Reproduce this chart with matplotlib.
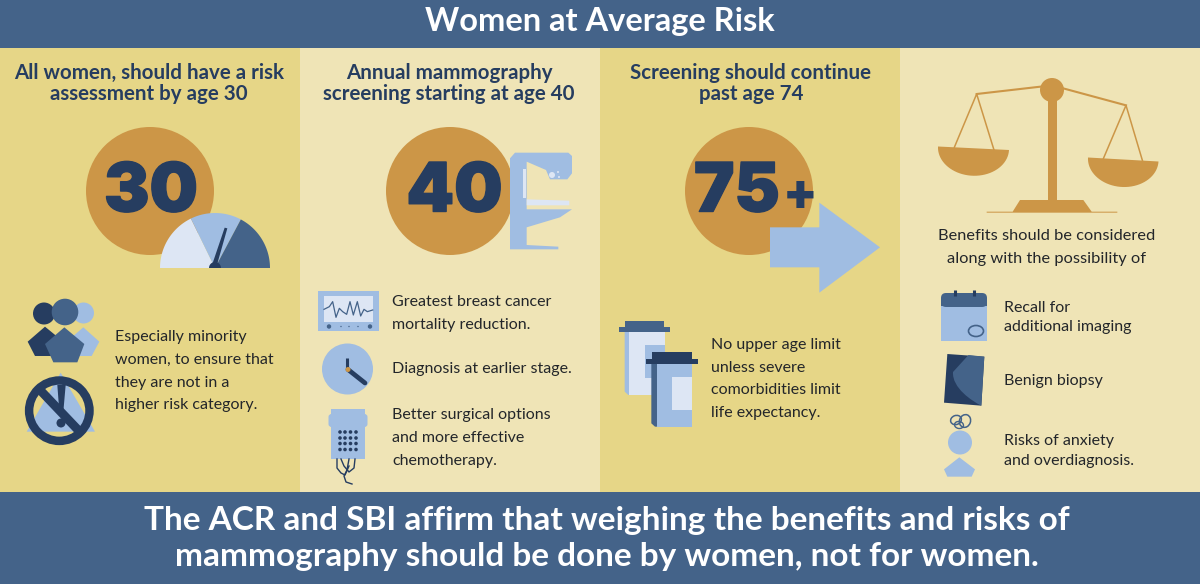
import numpy as np
import matplotlib
matplotlib.use("Agg")
import matplotlib.pyplot as plt
from matplotlib.patches import Circle, Polygon, Rectangle, FancyBboxPatch, Ellipse, PathPatch
from matplotlib.path import Path
import matplotlib.patheffects as pe

plt.rcParams['font.family'] = ['Lato', 'DejaVu Sans']

# text content
title = "Women at Average Risk"
footer = ["The ACR and SBI affirm that weighing the benefits and risks of",
          "mammography should be done by women, not for women."]
headers = [["All women, should have a risk", "assessment by age 30"],
           ["Annual mammography", "screening starting at age 40"],
           ["Screening should continue", "past age 74"]]
header_x = [149, 449, 751]
ages = ["30", "40", "75+"]
age_x = [150, 450, 749]
panel_x = [0, 300, 600, 900]

col1_text = ["Especially minority", "women, to ensure that", "they are not in a", "higher risk category."]
col2_text = [["Greatest breast cancer", "mortality reduction."],
             ["Diagnosis at earlier stage."],
             ["Better surgical options", "and more effective", "chemotherapy."]]
col3_text = ["No upper age limit", "unless severe", "comorbidities limit", "life expectancy."]
col4_intro = ["Benefits should be considered", "along with the possibility of"]
col4_text = [["Recall for", "additional imaging"], ["Benign biopsy"], ["Risks of anxiety", "and overdiagnosis."]]

# colours
GOLD = '#e6d687'
CREAM = '#efe4b6'
ORANGE = '#cc9647'
NAVY = '#263d60'
BLUE = '#446389'
LIGHT = '#a0bde2'
PALE = '#dde6f4'
INK = '#23262a'

fig = plt.figure(figsize=(12, 5.86), dpi=100)
ax = fig.add_axes([0, 0, 1, 1])
ax.set_xlim(0, 1200)
ax.set_ylim(586, 0)
ax.axis('off')


def poly(pts, color, z=2, ox=0, oy=0, s=1/3):
    # points come in zoomed crop coords (3x), ox/oy is crop origin
    p = [(ox + x * s, oy + y * s) for x, y in pts]
    ax.add_patch(Polygon(p, closed=True, fc=color, ec='none', zorder=z))


def circ(x, y, r, color, z=2):
    ax.add_patch(Circle((x, y), r, fc=color, ec='none', zorder=z))


def wedge(x, y, r, a0, a1, color, z=3):
    t = np.radians(np.linspace(a0, a1, 40))
    pts = [(x, y)] + list(zip(x + r * np.cos(t), y - r * np.sin(t)))
    ax.add_patch(Polygon(pts, closed=True, fc=color, ec='none', zorder=z))


def seg(x0, y0, x1, y1, color, lw, z=4, cap='butt'):
    ax.plot([x0, x1], [y0, y1], color=color, lw=lw, solid_capstyle=cap, zorder=z)


def body(x, lines, ys, size=11.5):
    for s, y in zip(lines, ys):
        ax.text(x, y + 1.5, s, fontsize=size, color=INK, va='center', ha='left', zorder=10)


# panels and banners
for i, x in enumerate(panel_x):
    ax.add_patch(Rectangle((x, 48), 300, 444, fc=GOLD if i % 2 == 0 else CREAM, ec='none', zorder=0))
ax.add_patch(Rectangle((0, 0), 1200, 48, fc=BLUE, ec='none', zorder=1))
ax.add_patch(Rectangle((0, 492), 1200, 92, fc=BLUE, ec='none', zorder=1))
ax.text(600, 21.5, title, color='white', fontsize=23.5, fontweight='bold', ha='center', va='center', zorder=5)
ax.text(607, 520.5, footer[0], color='white', fontsize=24, fontweight='bold', ha='center', va='center', zorder=5)
ax.text(607, 556.5, footer[1], color='white', fontsize=24, fontweight='bold', ha='center', va='center', zorder=5)

for hx, lines in zip(header_x, headers):
    ax.text(hx, 73, lines[0], color=NAVY, fontsize=14.8, fontweight='bold', ha='center', va='center', zorder=5)
    ax.text(hx, 94, lines[1], color=NAVY, fontsize=14.8, fontweight='bold', ha='center', va='center', zorder=5)

# big orange circles with the ages
for cx in age_x:
    circ(cx, 191, 64, ORANGE)
stroke = [pe.withStroke(linewidth=1, foreground=NAVY)]
big = dict(color=NAVY, fontsize=49, family=['Inter', 'Lato'], fontweight='black', va='center', zorder=6, path_effects=stroke)
ax.text(151, 193.5, ages[0], ha='center', **big)
ax.text(454.5, 193.5, ages[1], ha='center', **big)
ax.text(694, 193.5, ages[2][:2], ha='left', **big)
ax.text(800, 196, ages[2][2:], color=NAVY, fontsize=36, family=['Inter', 'Lato'], fontweight='black', ha='center', va='center', zorder=6)

# gauge
wedge(215, 268, 55, 116, 180, PALE)
wedge(215, 268, 55, 62, 116, LIGHT)
wedge(215, 268, 55, 0, 62, BLUE)
poly([(455, 408), (470, 408), (502, 295), (494, 293)], NAVY, 5, 60, 130)
wedge(215, 268, 6, 0, 180, NAVY, 5)

# people icon
O = (0, 270)
circ(83.5, 313, 10.5, LIGHT, 3)
poly([(250, 172), (298, 215), (275, 258), (220, 258), (200, 215)], LIGHT, 3, *O)
circ(44, 313.5, 11, NAVY, 4)
poly([(135, 170), (190, 215), (165, 258), (105, 258), (83, 215)], NAVY, 4, *O)
circ(65, 312, 13.3, BLUE, 5)
poly([(193, 172), (253, 222), (232, 277), (160, 277), (135, 222)], BLUE, 5, *O)

# no-symbol icon
poly([(182, 308), (285, 485), (80, 485)], LIGHT, 3, *O)
ax.add_patch(Circle((59.3, 410.7), 30.2, fc='none', ec=NAVY, lw=6.1, zorder=5))
seg(41, 391, 80, 432, NAVY, 6.4, 5)
poly([(172, 345), (197, 345), (190, 425), (178, 425)], NAVY, 5, *O)
circ(61, 423, 4.5, NAVY, 5)

# mammography machine
O = (300, 130)
poly([(630, 358), (630, 85), (645, 68), (805, 68), (816, 78), (816, 130), (802, 148), (750, 148),
      (738, 120), (680, 95), (680, 238), (816, 238), (780, 262), (680, 292), (680, 345), (775, 350), (775, 358)],
     LIGHT, 3, *O)
ax.add_patch(Rectangle((522.5, 169), 3.5, 29, fc=PALE, ec='none', zorder=4))
poly([(680, 208), (808, 212), (808, 226), (680, 226)], PALE, 4, *O)
circ(552, 175, 3, PALE, 4)
circ(558, 172, 1, PALE, 4)
circ(559, 177, 1, PALE, 4)

# monitor
ax.add_patch(Rectangle((318, 291), 61, 39.5, fc=LIGHT, ec='none', zorder=3))
ax.add_patch(Rectangle((324, 296), 49, 26, fc=PALE, ec='none', zorder=4))
ecg_x = [72, 88, 98, 108, 118, 128, 140, 150, 160, 172, 182, 192, 202, 218]
ecg_y = [538, 530, 515, 562, 535, 545, 553, 515, 555, 515, 558, 538, 545, 540]
ax.plot([300 + x / 3 for x in ecg_x], [130 + y / 3 for y in ecg_y], color=BLUE, lw=0.9, zorder=5)
for dx, r in [(329, 2.2), (341, 0.7), (349, 0.7), (358, 0.7), (370, 2.2)]:
    circ(dx, 326.5, r, BLUE, 5)

# clock
circ(347.5, 369, 25.5, LIGHT, 3)
seg(347.3, 358, 347.3, 369.5, NAVY, 2.2, 4)
seg(348, 369.5, 365, 383, NAVY, 3.4, 4, 'round')
circ(348, 369.5, 2.5, ORANGE, 5)

# paddle
ax.add_patch(Rectangle((331, 409), 34, 8, fc=LIGHT, ec='none', zorder=3))
ax.add_patch(FancyBboxPatch((328.5, 414), 39, 13, boxstyle='round,pad=0,rounding_size=3', fc=LIGHT, ec='none', zorder=3))
ax.add_patch(Rectangle((331, 425), 34, 34, fc=LIGHT, ec='none', zorder=3))
for gy in [432, 438, 443.5, 449.5]:
    for gx in [340, 345, 350.5, 356]:
        circ(gx, gy, 1.8, NAVY, 4)
ax.plot([337, 337, 341, 345, 349], [459, 468, 473, 475, 466], color=NAVY, lw=1, zorder=4)
ax.plot([341, 344, 349, 354, 355], [459, 466, 472, 468, 459], color=NAVY, lw=1, zorder=4)
ax.plot([349, 347, 344, 346, 352], [459, 470, 476, 482, 484], color=NAVY, lw=1, zorder=4)

# arrow
poly([(510, 292), (658, 292), (658, 218), (840, 352), (658, 488), (658, 412), (510, 412)], LIGHT, 5, 600, 130)

# pill bottles
O = (600, 130)
poly([(74, 572), (193, 572), (193, 592), (210, 592), (210, 606), (57, 606), (57, 592), (74, 592)], BLUE, 3, *O)
poly([(74, 606), (195, 606), (195, 795), (85, 795), (74, 785)], LIGHT, 3, *O)
poly([(88, 606), (195, 606), (195, 795), (88, 795)], PALE, 3, *O)
poly([(134, 645), (195, 645), (195, 745), (134, 745)], LIGHT, 3, *O)
poly([(154, 700), (276, 700), (276, 890), (165, 890), (154, 880)], BLUE, 4, *O)
poly([(170, 700), (276, 700), (276, 890), (170, 890)], LIGHT, 4, *O)
poly([(216, 740), (276, 740), (276, 840), (216, 840)], PALE, 4, *O)
poly([(156, 667), (275, 667), (275, 687), (293, 687), (293, 701), (138, 701), (138, 687), (156, 687)], NAVY, 5, *O)

# scale
O = (920, 60)
beam = [(170, 102), (396, 76), (618, 136)]
bx = [920 + p[0] / 3 for p in beam]
by = [60 + p[1] / 3 for p in beam]
ax.plot(bx, by, color=ORANGE, lw=1.5, zorder=3)
ax.plot([920 + 103 / 3, 920 + 170 / 3, 920 + 222 / 3], [60 + 262 / 3, 60 + 102 / 3, 60 + 270 / 3], color=ORANGE, lw=1.1, zorder=3)
ax.plot([920 + 550 / 3, 920 + 618 / 3, 920 + 668 / 3], [60 + 296 / 3, 60 + 136 / 3, 60 + 304 / 3], color=ORANGE, lw=1.1, zorder=3)


def pan(x0, y0, x1, y1, color):
    # half ellipse hanging under the rim
    cx, cy = (x0 + x1) / 2, (y0 + y1) / 2
    a = np.hypot(x1 - x0, y1 - y0) / 2
    ang = np.arctan2(y1 - y0, x1 - x0)
    t = np.linspace(0, np.pi, 40)
    ex, ey = a * np.cos(t), 27.5 * np.sin(t)
    xs = cx + ex * np.cos(ang) - ey * np.sin(ang)
    ys = cy + ex * np.sin(ang) + ey * np.cos(ang)
    ax.add_patch(Polygon(np.column_stack([xs, ys]), closed=True, fc=color, ec='none', zorder=3))


pan(938, 146.5, 1009, 150, ORANGE)
pan(1088, 157.5, 1158.5, 161.5, ORANGE)
ax.add_patch(Rectangle((1047.5, 90), 9.5, 112, fc=ORANGE, ec='none', zorder=3))
circ(1052, 90, 12, ORANGE, 4)
poly([(300, 420), (490, 420), (515, 455), (592, 455), (592, 458), (200, 458), (200, 455), (278, 455)], ORANGE, 3, *O)

# calendar
ax.add_patch(Rectangle((941, 305), 46, 36, fc=LIGHT, ec='none', zorder=3))
ax.add_patch(FancyBboxPatch((941, 293), 46, 14, boxstyle='round,pad=0,rounding_size=5', fc=BLUE, ec='none', zorder=4))
ax.add_patch(Rectangle((941, 300), 46, 6, fc=BLUE, ec='none', zorder=4))
seg(955, 290, 955, 296, NAVY, 2.2, 5)
seg(973.5, 290, 973.5, 296, NAVY, 2.2, 5)
ax.add_patch(Ellipse((976, 331), 15, 11, fc='none', ec=BLUE, lw=1.2, zorder=5))

# film, curved edge between the two tones
poly([(82, 882), (193, 890), (184, 1037), (72, 1028)], NAVY, 3, *O)
verts = [(968.5, 355), (984.3, 356.7), (981.3, 405.7), (972, 401), (952, 388), (953, 372), (968.5, 355), (968.5, 355)]
codes = [Path.MOVETO, Path.LINETO, Path.LINETO, Path.CURVE4, Path.CURVE4, Path.CURVE4, Path.LINETO, Path.CLOSEPOLY]
ax.add_patch(PathPatch(Path(verts, codes), fc=BLUE, ec='none', zorder=4))

# head and squiggle
circ(960, 442.5, 12, LIGHT, 3)
poly([(118, 1192), (165, 1228), (155, 1250), (82, 1250), (72, 1228)], LIGHT, 3, *O)
ax.add_patch(Ellipse((956, 420), 11, 9, angle=-20, fc='none', ec=BLUE, lw=1.1, zorder=4))
ax.add_patch(Ellipse((965, 421), 11, 13, angle=20, fc='none', ec=BLUE, lw=1.1, zorder=4))
ax.add_patch(Ellipse((959, 425), 9, 7, angle=10, fc='none', ec=BLUE, lw=1.0, zorder=4))

# body copy
body(115, col1_text, [335, 358, 381, 404])
for lines, ys in zip(col2_text, [[300, 323], [368], [414, 437, 460]]):
    body(392, lines, ys)
body(711, col3_text, [343.5, 366, 389, 412])
for s, y in zip(col4_intro, [235, 258]):
    ax.text(1046.5, y + 1.5, s, fontsize=11.8, color=INK, ha='center', va='center', zorder=10)
for lines, ys in zip(col4_text, [[307, 325.5], [379], [440, 459]]):
    body(1004.5, lines, ys)

fig.savefig('out.png', dpi=100, facecolor='white')
